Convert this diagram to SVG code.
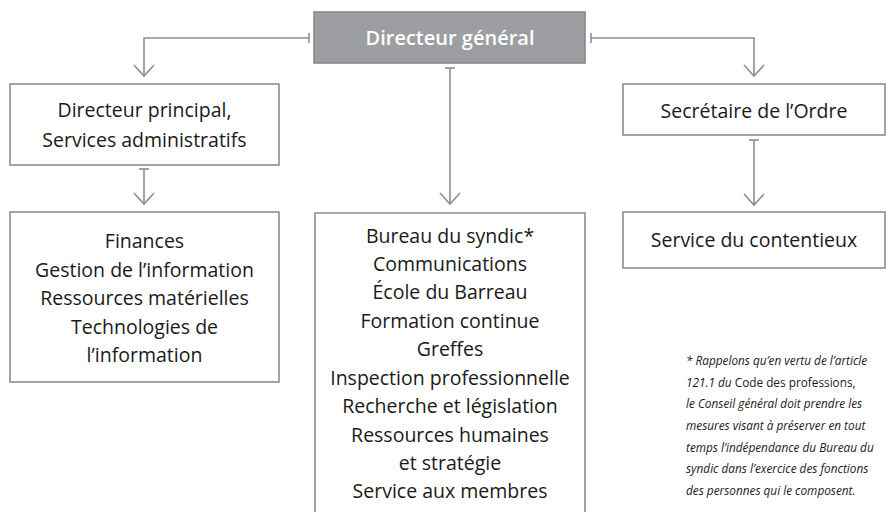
<svg xmlns="http://www.w3.org/2000/svg" width="890" height="512" viewBox="0 0 890 512">
<style>
.box{fill:#fff;stroke:#8d8d90;stroke-width:1.6}
.top{fill:#9d9ea1;stroke:#88898c;stroke-width:1.6}
.t{font-family:"Open Sans","Noto Sans",sans-serif;font-size:19.5px;fill:#1a1a1a;text-anchor:middle}
.tw{font-family:"Open Sans","Noto Sans",sans-serif;font-size:20px;font-weight:600;fill:#fff;text-anchor:middle}
.fn{font-family:"Open Sans","Noto Sans",sans-serif;font-size:11.8px;fill:#1a1a1a;font-style:italic}
.up{font-style:normal}
.c{fill:none;stroke:#8e8e91;stroke-width:1.6}
</style>
<g id="connectors" class="c">
<path d="M309,38 H144 V76"/><path d="M309,33 V43"/><path d="M134,65 L144,76 L154,65"/>
<path d="M591,38 H754 V76"/><path d="M591,33 V43"/><path d="M744,65 L754,76 L764,65"/>
<path d="M450,68 V204"/><path d="M445,68 H455"/><path d="M440,193 L450,204 L460,193"/>
<path d="M144,169 V204"/><path d="M139,169 H149"/><path d="M134,193 L144,204 L154,193"/>
<path d="M754,140 V205"/><path d="M749,140 H759"/><path d="M744,194 L754,205 L764,194"/>
</g>
<g id="n-dg"><rect class="top" x="314" y="12" width="271" height="51"/><text class="tw" x="450" y="45">Directeur général</text></g>
<g id="n-dp"><rect class="box" x="10" y="84" width="269" height="81"/><text class="t" x="144.5" y="117">Directeur principal,</text><text class="t" x="144.5" y="147">Services administratifs</text></g>
<g id="n-sa"><rect class="box" x="10" y="212" width="269" height="170"/>
<text class="t" x="144.5" y="248">Finances</text>
<text class="t" x="144.5" y="277">Gestion de l’information</text>
<text class="t" x="144.5" y="305">Ressources matérielles</text>
<text class="t" x="144.5" y="334">Technologies de</text>
<text class="t" x="144.5" y="362">l’information</text></g>
<g id="n-dir"><path class="box" d="M315,520 V213 H585 V520"/>
<text class="t" x="450" y="243">Bureau du syndic*</text>
<text class="t" x="450" y="271">Communications</text>
<text class="t" x="450" y="299">École du Barreau</text>
<text class="t" x="450" y="328">Formation continue</text>
<text class="t" x="450" y="356">Greffes</text>
<text class="t" x="450" y="385">Inspection professionnelle</text>
<text class="t" x="450" y="413">Recherche et législation</text>
<text class="t" x="450" y="442">Ressources humaines</text>
<text class="t" x="450" y="470">et stratégie</text>
<text class="t" x="450" y="498">Service aux membres</text></g>
<g id="n-so"><rect class="box" x="623" y="84" width="262" height="51"/><text class="t" x="754" y="118">Secrétaire de l’Ordre</text></g>
<g id="n-sc"><rect class="box" x="623" y="212" width="262" height="56"/><text class="t" x="754" y="247">Service du contentieux</text></g>
<g id="footnote">
<text class="fn" x="686" y="365">* Rappelons qu’en vertu de l’article</text>
<text class="fn" x="686" y="387">121.1 du <tspan class="up">Code des professions,</tspan></text>
<text class="fn" x="686" y="408">le Conseil général doit prendre les</text>
<text class="fn" x="686" y="430">mesures visant à préserver en tout</text>
<text class="fn" x="686" y="452">temps l’indépendance du Bureau du</text>
<text class="fn" x="686" y="473">syndic dans l’exercice des fonctions</text>
<text class="fn" x="686" y="495">des personnes qui le composent.</text>
</g>
</svg>
